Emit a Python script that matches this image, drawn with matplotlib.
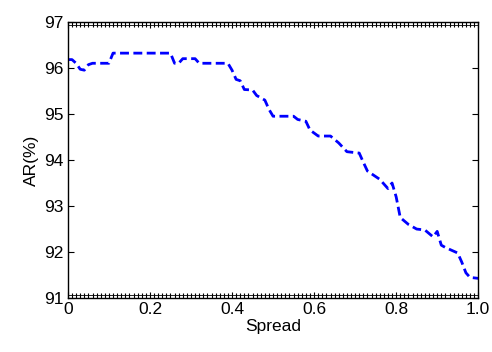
import numpy as np
from matplotlib import pyplot as plt
from matplotlib.ticker import MultipleLocator

# values
spread = [0.00, 0.01, 0.02, 0.03, 0.04, 0.05, 0.06, 0.10, 0.11, 0.25,
          0.26, 0.27, 0.28, 0.31, 0.32, 0.39, 0.40, 0.41, 0.42, 0.43,
          0.45, 0.46, 0.48, 0.49, 0.50, 0.55, 0.56, 0.58, 0.59, 0.61,
          0.64, 0.66, 0.68, 0.71, 0.72, 0.73, 0.76, 0.78, 0.79, 0.80,
          0.81, 0.83, 0.85, 0.87, 0.89, 0.90, 0.91, 0.92, 0.94, 0.95,
          0.96, 0.97, 0.98, 1.00]
ar = [96.18, 96.18, 96.10, 95.97, 95.95, 96.07, 96.10, 96.10, 96.32, 96.32,
      96.10, 96.10, 96.20, 96.20, 96.10, 96.10, 95.95, 95.75, 95.72, 95.53,
      95.52, 95.40, 95.30, 95.10, 94.95, 94.95, 94.88, 94.84, 94.65, 94.52,
      94.52, 94.37, 94.18, 94.15, 93.95, 93.76, 93.58, 93.38, 93.50, 93.20,
      92.75, 92.60, 92.50, 92.48, 92.33, 92.45, 92.15, 92.10, 92.02, 91.98,
      91.78, 91.55, 91.45, 91.43]

x_ticks = [0, 0.2, 0.4, 0.6, 0.8, 1.0]
x_tick_labels = ["0", "0.2", "0.4", "0.6", "0.8", "1.0"]
y_ticks = [91, 92, 93, 94, 95, 96, 97]

plt.rcParams["font.family"] = ["Liberation Sans", "DejaVu Sans"]

fig = plt.figure(figsize=(4.92, 3.52), dpi=100)
ax = fig.add_axes([0.138, 0.153, 0.834, 0.785])

ax.plot(spread, ar, color="#0000ff", linewidth=2.0, linestyle=(0, (3.2, 1.6)))

ax.set_xlim(0, 1)
ax.set_ylim(91, 97)
ax.set_xticks(x_ticks)
ax.set_xticklabels(x_tick_labels)
ax.set_yticks(y_ticks)
ax.xaxis.set_minor_locator(MultipleLocator(0.01))

ax.tick_params(which="major", direction="in", length=4, width=0.8,
               top=True, right=True, labelsize=12.5, pad=3)
ax.tick_params(axis="x", which="minor", direction="in", length=3.5,
               width=0.8, color="black", top=True, bottom=True)

# thin inner lines give the ladder look of the top and bottom edges
ax.axhline(91.06, color="black", linewidth=0.6)
ax.axhline(96.94, color="black", linewidth=0.6)

for s in ax.spines.values():
    s.set_linewidth(1.0)

ax.set_xlabel("Spread", fontsize=12.5, labelpad=1)
ax.set_ylabel("AR(%)", fontsize=12.5, labelpad=4)

fig.savefig("out.png", dpi=100)
